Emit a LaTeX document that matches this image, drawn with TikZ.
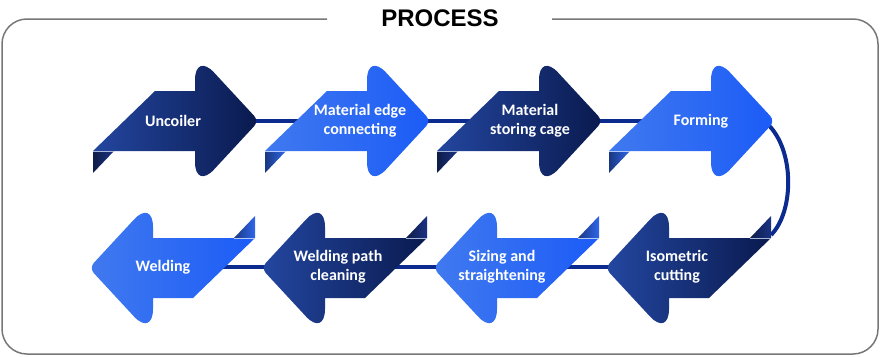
\documentclass[tikz,border=0pt]{standalone}
\usepackage{fontspec}
\usepackage{xcolor}
\usepackage{tikz}
\usetikzlibrary{backgrounds}
\newfontfamily\headFont{Liberation Sans}
\newfontfamily\stepFont{Carlito}
\definecolor{navyLight}{HTML}{23469F}
\definecolor{navyDeep}{HTML}{0A1A4F}
\definecolor{skyLight}{HTML}{4079EF}
\definecolor{skyDeep}{HTML}{1C5CF7}
\definecolor{foldNavy}{HTML}{1A3383}
\definecolor{foldSky}{HTML}{2F66EA}
\definecolor{linkBlue}{HTML}{0B2B8E}
\definecolor{frameGrey}{HTML}{777777}

\begin{document}
\begin{tikzpicture}[x=1pt, y=-1pt,
    steplabel/.style={text=white, align=center, font=\stepFont\bfseries\fontsize{16}{19}\selectfont},
    link/.style={linkBlue, line width=4pt}]
  \useasboundingbox (0,0) rectangle (880,356);
  % ── frame, open at the top for the title
  \draw[frameGrey, line width=1.5pt, rounded corners=25pt]
    (327,19) -- (2,19) -- (2,354) -- (878,354) -- (878,19) -- (552,19);
  \node[font=\headFont\bfseries\fontsize{24}{28}\selectfont, anchor=base] (title) at (440,27) {PROCESS};
  % ── arrows: top row points right, bottom row is the same arrow turned round
  \foreach \i in {0,1,2,3} {
    \foreach \r in {0,1} {
      \pgfmathtruncatemacro{\n}{\i+\r}
      \ifodd\n \def\lc{skyLight}\def\rc{skyDeep}\def\fc{foldSky}
      \else \def\lc{navyLight}\def\rc{navyDeep}\def\fc{foldNavy}\fi
      \begin{scope}[shift={(93+172*\i+162*\r,121+147*\r)}, rotate=180*\r]
        % body + head with rounded head corners
        \shade[left color=\lc, right color=\rc] (0,30) -- (62,-30) -- (102,-30) -- (102,-41)
          .. controls (102,-56.4) and (110.5,-59.8) .. (121,-48.5) -- (161.2,-5.1)
          .. controls (163.8,-2.3) and (163.8,2.3) .. (161.2,5.1) -- (121,48.5)
          .. controls (110.5,59.8) and (102,56.4) .. (102,41) -- (102,30) -- cycle;
        % folded corner
        \shade[left color=\fc!55!black, right color=\fc] (0,30) -- (0,52) -- (21,30) -- cycle;
        \draw[white!60!\lc, line width=0.8pt] (0,30) -- (21,30);
      \end{scope}
    }
  }
  % ── labels
  \node[steplabel] (uncoiler) at (173,121) {Uncoiler};
  \node[steplabel] (edge) at (360,121) {Material edge\\connecting};
  \node[steplabel] (cage) at (530,121) {Material\\storing cage};
  \node[steplabel] (forming) at (701,121) {Forming};
  \node[steplabel] (cutting) at (677,267) {Isometric\\cutting};
  \node[steplabel] (sizing) at (502,267) {Sizing and\\straightening};
  \node[steplabel] (cleaning) at (338,267) {Welding path\\cleaning};
  \node[steplabel] (welding) at (163,267) {Welding};
  \coordinate (formTip) at (764,121);
  \coordinate (cutEnd) at (771,235);
  % ── connectors behind the arrows
  \begin{scope}[on background layer]
    \draw[link] (uncoiler) -- (edge);
    \draw[link] (edge) -- (cage);
    \draw[link] (cage) -- (forming);
    \draw[link] (formTip) .. controls (795,145) and (795,211) .. (cutEnd);
    \draw[link] (cutting) -- (sizing);
    \draw[link] (sizing) -- (cleaning);
    \draw[link] (cleaning) -- (welding);
  \end{scope}
\end{tikzpicture}
\end{document}
